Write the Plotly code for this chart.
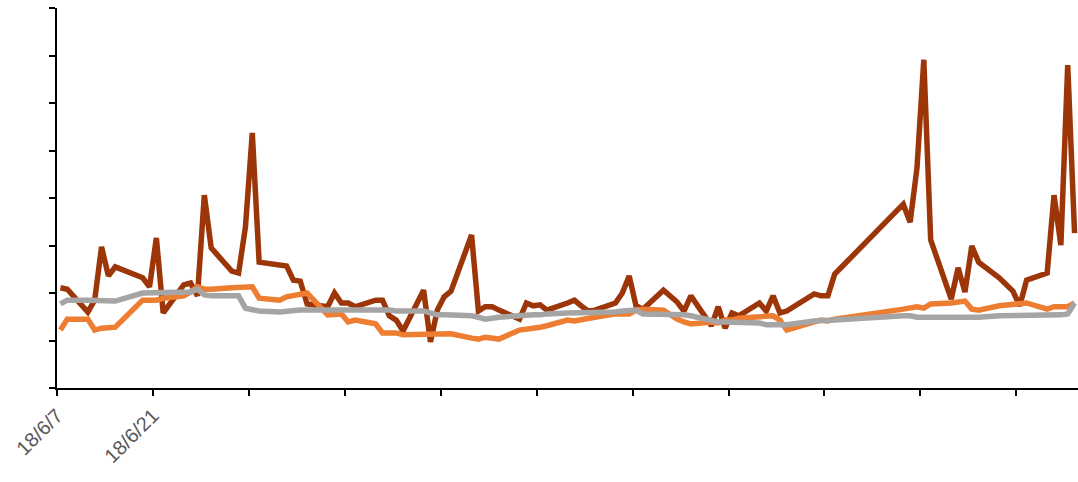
import pandas as pd
import plotly.graph_objects as go

# Trading days (China A-share calendar), 2018-06-07 .. 2018-11-02
start_date = "2018-06-07"
end_date = "2018-11-02"
holidays = ["2018-06-18", "2018-09-24", "2018-10-01", "2018-10-02",
            "2018-10-03", "2018-10-04", "2018-10-05"]

tick_dates = ["2018-06-07", "2018-06-21", "2018-07-05", "2018-07-19", "2018-08-02",
              "2018-08-16", "2018-08-30", "2018-09-13", "2018-09-27", "2018-10-11",
              "2018-10-25"]
tick_labels = ["18/6/7", "18/6/21", "", "", "", "", "", "", "", "", ""]

# Series 1 (dark red)
s1 = [
    # Jun
    21.1, 20.8, 16.0, 18.5, 29.7, 23.6, 25.5, 23.2, 21.3, 31.6, 15.8, 21.7, 22.1, 19.4, 40.6, 29.5,
    # Jul
    24.6, 24.2, 33.9, 53.7, 26.5, 26.1, 25.7, 22.7, 22.5, 17.7, 17.1, 20.0, 17.9, 17.9, 17.1,
    18.5, 18.5, 15.2, 14.3, 12.0, 20.6, 9.7,
    # Aug
    16.4, 19.2, 20.4, 32.2, 16.2, 17.1, 17.1, 16.4, 14.5, 17.9, 17.3, 17.5, 16.4, 17.9, 18.5,
    17.3, 16.2, 16.4, 17.9, 20.0, 23.6, 17.3, 16.6,
    # Sep
    20.6, 19.4, 18.1, 16.2, 19.4, 13.1, 17.1, 12.6, 15.8, 15.2, 17.9, 16.2, 19.4, 15.8, 16.2,
    19.8, 19.4, 19.4, 24.0,
    # Oct
    38.7, 34.9, 46.3, 69.1, 31.2, 18.7, 25.3, 20.2, 29.9, 26.5, 23.2, 21.7, 20.4, 17.3, 22.7,
    24.2, 40.6, 30.1,
    # Nov
    68.0, 32.6,
]

# Series 2 (orange)
s2 = [
    12.2, 14.5, 14.5, 12.2, 12.6, 12.8, 12.8, 18.5, 18.5, 18.5, 18.9, 19.4, 20.2, 21.3, 20.8, 20.8,
    21.1, 21.1, 21.1, 21.3, 18.9, 18.5, 19.2, 19.4, 19.6, 20.0, 15.4, 15.6, 15.6, 13.9, 14.3,
    13.5, 11.6, 11.6, 11.6, 11.2, 11.2, 11.2,
    11.4, 11.4, 11.4, 10.5, 10.3, 10.7, 10.5, 10.3, 12.2, 12.4, 12.4, 12.8, 13.1, 14.3, 14.1,
    14.3, 14.7, 14.9, 15.6, 15.6, 15.6, 16.4, 16.6,
    16.4, 15.4, 14.5, 13.9, 13.5, 13.9, 13.7, 14.3, 14.3, 14.7, 14.9, 15.2, 15.2, 14.3, 12.2,
    13.9, 14.3, 14.1, 14.5,
    16.6, 16.8, 17.1, 16.8, 17.7, 17.9, 18.1, 18.3, 16.6, 16.4, 17.3, 17.5, 17.7, 17.7, 17.9,
    16.6, 17.1, 17.1,
    17.1, 17.9,
]

# Series 3 (gray)
s3 = [
    17.7, 18.5, 18.5, 18.5, 18.5, 18.3, 18.3, 20.0, 20.0, 20.0, 20.2, 20.2, 20.2, 20.8, 19.6, 19.4,
    19.4, 19.4, 16.8, 16.4, 16.2, 16.0, 16.2, 16.4, 16.4, 16.4, 16.4, 16.4, 16.6, 16.6, 16.6,
    16.6, 16.6, 16.4, 16.2, 16.2, 16.2, 15.8,
    15.4, 15.4, 15.4, 15.2, 14.9, 14.5, 14.7, 14.9, 15.2, 15.4, 15.4, 15.4, 15.6, 15.8, 15.8,
    15.8, 15.8, 16.0, 16.0, 16.2, 16.2, 16.4, 15.6,
    15.6, 15.6, 15.4, 15.4, 15.2, 14.1, 13.9, 13.9, 13.9, 13.9, 13.7, 13.3, 13.3, 13.1, 13.3,
    14.1, 14.1, 14.3, 14.3,
    15.2, 15.2, 14.9, 14.9, 14.9, 14.9, 14.9, 14.9, 14.9, 14.9, 15.2, 15.2, 15.2, 15.2, 15.2,
    15.4, 15.4, 15.4,
    15.6, 17.9,
]

days = pd.bdate_range(start_date, end_date)
days = days[~days.isin(pd.to_datetime(holidays))]
assert len(days) == len(s1) == len(s2) == len(s3), (len(days), len(s1), len(s2), len(s3))
# points sit in the middle of each day (date axis, "between tick marks")
xs = days + pd.Timedelta(hours=12)

fig = go.Figure()
for vals, color in [(s1, "#9C3609"), (s2, "#ED7D31"), (s3, "#A5A5A5")]:
    fig.add_trace(go.Scatter(x=xs, y=vals, mode="lines",
                             line=dict(color=color, width=5.5), showlegend=False,
                             hoverinfo="skip"))

fig.update_layout(
    width=1078, height=482,
    margin=dict(l=57, r=0, t=8, b=94, autoexpand=False),
    paper_bgcolor="white", plot_bgcolor="white",
    showlegend=False,
)
fig.update_xaxes(
    type="date",
    range=["2018-06-07", "2018-11-03"],
    tickvals=tick_dates, ticktext=tick_labels,
    tickangle=-45,
    ticks="outside", ticklen=6, tickwidth=1.5, tickcolor="black",
    showline=True, linecolor="black", linewidth=2,
    showgrid=False, zeroline=False,
    tickfont=dict(family="Liberation Sans", size=20, color="#595959"),
)
fig.update_yaxes(
    range=[0, 80], dtick=10, tick0=0,
    showticklabels=False,
    ticks="outside", ticklen=6, tickwidth=1.5, tickcolor="black",
    showline=True, linecolor="black", linewidth=2,
    showgrid=False, zeroline=False,
)

fig.write_html(
    "out.html",
    config={"displayModeBar": False},
    post_script="document.body.style.margin='0';document.body.style.overflow='hidden';",
)
